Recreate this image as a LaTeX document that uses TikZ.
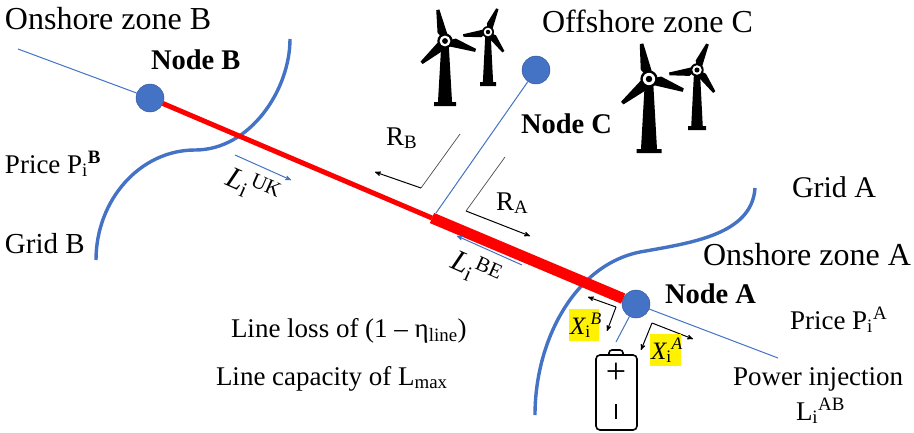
\documentclass[tikz,border=0pt]{standalone}
\usepackage{fontspec}
\setmainfont{Liberation Serif}
\usetikzlibrary{arrows}
\definecolor{gridblue}{HTML}{4472C4}
\definecolor{nodeedge}{HTML}{2F528F}
\newcommand{\subsup}[3]{#1\textsubscript{#2}\textsuperscript{#3}}
\newcommand{\windturbine}[5]{% hub x, hub y, tower height, base width, blade length
	\fill[black] (#1-#4*0.16,#2) -- (#1+#4*0.16,#2) -- (#1+#4*0.32,#2+#3-3) -- (#1+#4*0.5,#2+#3-3) -- (#1+#4*0.5,#2+#3+1) -- (#1-#4*0.5,#2+#3+1) -- (#1-#4*0.5,#2+#3-3) -- (#1-#4*0.32,#2+#3-3) -- cycle;
	\foreach \ang in {0,120,240} {
		\fill[black,shift={(#1,#2)},rotate=-\ang-\bladerot] (0,0) -- (#5*0.3,-#5*0.17) -- (#5,-#5*0.05) -- (#5,#5*0.05) -- (#5*0.2,#5*0.12) -- cycle;
	}
	\fill[black] (#1,#2) circle (#5*0.24);
	\fill[white] (#1,#2) circle (#5*0.17);
	\fill[black] (#1,#2) circle (#5*0.09);
}
\begin{document}
\begin{tikzpicture}[x=1pt,y=-1pt,>=stealth',semithick]
	\tikzstyle{every node}=[inner sep=0pt,outer sep=0pt]
	\tikzstyle{bus}=[circle,fill=gridblue,draw=nodeedge,thin,minimum size=28pt]
	\tikzstyle{lbl}=[anchor=base west,font=\fontsize{32}{38}\selectfont]
	\tikzstyle{small}=[anchor=base west,font=\fontsize{27}{32}\selectfont]
	\tikzstyle{nodelbl}=[anchor=base west,font=\fontsize{28.5}{34}\selectfont\bfseries]
	\tikzstyle{hilite}=[fill=yellow,anchor=north west]
	\tikzstyle{feeder}=[draw=gridblue,line width=1pt]
	\tikzstyle{flow}=[draw=gridblue,line width=1pt,->]
	\tikzstyle{boundary}=[draw=gridblue,line width=3.4pt]
	\tikzstyle{lead}=[draw=black!70,line width=0.7pt]
	\tikzstyle{share}=[draw=black,line width=1pt,->]
	\useasboundingbox (0,0) rectangle (914,432);

	% zones
	\draw[boundary] (290,39) .. controls (290,90) and (250,150) .. (195,150) .. controls (140,150) and (96,200) .. (96,260);
	\draw[boundary] (755,188) .. controls (752,235) and (690,243) .. (640,252) .. controls (575,265) and (535,340) .. (535,415);

	% turbines
	\def\bladerot{17}
	\windturbine{445}{41}{64}{22}{32}
	\def\bladerot{52}
	\windturbine{488}{32}{53}{16}{25}
	\def\bladerot{18}
	\windturbine{649}{79}{73}{25}{36}
	\def\bladerot{52}
	\windturbine{697}{70}{59}{18}{28}

	% buses
	\node[bus] (B) at (150,98) {};
	\node[bus] (C) at (536,70) {};
	\node[bus] (A) at (636,304) {};
	\coordinate (Bw) at (18,49);
	\coordinate (Ae) at (778,358);
	\coordinate (As) at (616,342);
	\coordinate (T) at (432,218);
	\coordinate (Tc) at (436,213);
	\path[feeder]
	(B) edge (Bw)
	(C) edge (Tc)
	(A) edge (Ae)
	(A) edge (As);
	\draw[red,line width=5pt] (B) -- (T);
	\draw[red,line width=11pt] (T) -- (A);

	% flows along the line
	\coordinate (Luk1) at (235,155);
	\coordinate (Luk2) at (291,180);
	\coordinate (Lbe1) at (522,265);
	\coordinate (Lbe2) at (457,236);
	\draw[flow] (Luk1) -- (Luk2);
	\draw[flow] (Lbe1) -- (Lbe2);

	% wind shares
	\coordinate (Rb0) at (460,134);
	\coordinate (Rb1) at (421,188);
	\coordinate (Rb2) at (375,172);
	\coordinate (Ra0) at (505,157);
	\coordinate (Ra1) at (466,211);
	\coordinate (Ra2) at (530,236);
	\draw[lead] (Rb0) -- (Rb1);
	\draw[share] (Rb1) -- (Rb2);
	\draw[lead] (Ra0) -- (Ra1);
	\draw[share] (Ra1) -- (Ra2);

	% battery shares
	\coordinate (Xb0) at (616,307);
	\coordinate (Xb1) at (588,297);
	\coordinate (Xb2) at (607,331);
	\coordinate (Xa0) at (652,323);
	\coordinate (Xa1) at (693,339);
	\coordinate (Xa2) at (641,350);
	\draw[share] (Xb0) -- (Xb1);
	\draw[share] (Xb0) -- (Xb2);
	\draw[share] (Xa0) -- (Xa1);
	\draw[share] (Xa0) -- (Xa2);
	\node[hilite,minimum width=30pt,minimum height=32pt] (XbBox) at (569,309) {};
	\node[hilite,minimum width=31pt,minimum height=32pt] (XaBox) at (650,334) {};
	\node[small,font=\fontsize{25}{30}\selectfont\itshape] (Xb) at (570,334) {X\textsubscript{\upshape i}\textsuperscript{B}};
	\node[small,font=\fontsize{25}{30}\selectfont\itshape] (Xa) at (651,359) {X\textsubscript{\upshape i}\textsuperscript{A}};

	% battery
	\draw[line width=1.6pt,rounded corners=3pt] (609,355) -- (609,350) -- (623,350) -- (623,355);
	\draw[line width=1.6pt,rounded corners=4pt] (596,355) rectangle (637,430);
	\node[font=\fontsize{36}{40}\selectfont] (Plus) at (616,373) {+};
	\draw[line width=1.6pt] (616,404) -- (616,419);

	% labels
	\node[lbl] (ZoneB) at (5,29) {Onshore zone B};
	\node[lbl] (ZoneC) at (542,32) {Offshore zone C};
	\node[lbl] (ZoneA) at (703,265) {Onshore zone A};
	\node[nodelbl] (LblB) at (151,69) {Node B};
	\node[nodelbl] (LblC) at (521,133) {Node C};
	\node[nodelbl] (LblA) at (665,303) {Node A};
	\node[small] (PriceB) at (5,173) {\subsup{Price P}{i}{\textbf{B}}};
	\node[small] (PriceA) at (790,329) {\subsup{Price P}{i}{A}};
	\node[small,font=\fontsize{29}{34}\selectfont] (GridB) at (5,253) {Grid B};
	\node[small,font=\fontsize{30}{36}\selectfont] (GridA) at (792,197) {Grid A};
	\node[small] (Rb) at (386,145) {R\textsubscript{B}};
	\node[small] (Ra) at (496,210) {R\textsubscript{A}};
	\node[small] (Inject) at (733,385) {Power injection};
	\node[small] (Lab) at (796,420) {\subsup{L}{i}{AB}};
	\node[small] (Loss) at (231,337) {Line loss of (1 – η\textsubscript{line})};
	\node[small] (Cap) at (216,385) {Line capacity of L\textsubscript{max}};
	\node[small,font=\fontsize{30}{34}\selectfont,anchor=center,rotate=-24] (Luk) at (253,187) {\textit{L}\textsubscript{i}\textsuperscript{UK}};
	\node[small,font=\fontsize{30}{34}\selectfont,anchor=center,rotate=-24] (Lbe) at (476,270) {\textit{L}\textsubscript{i}\textsuperscript{BE}};
\end{tikzpicture}
\end{document}
